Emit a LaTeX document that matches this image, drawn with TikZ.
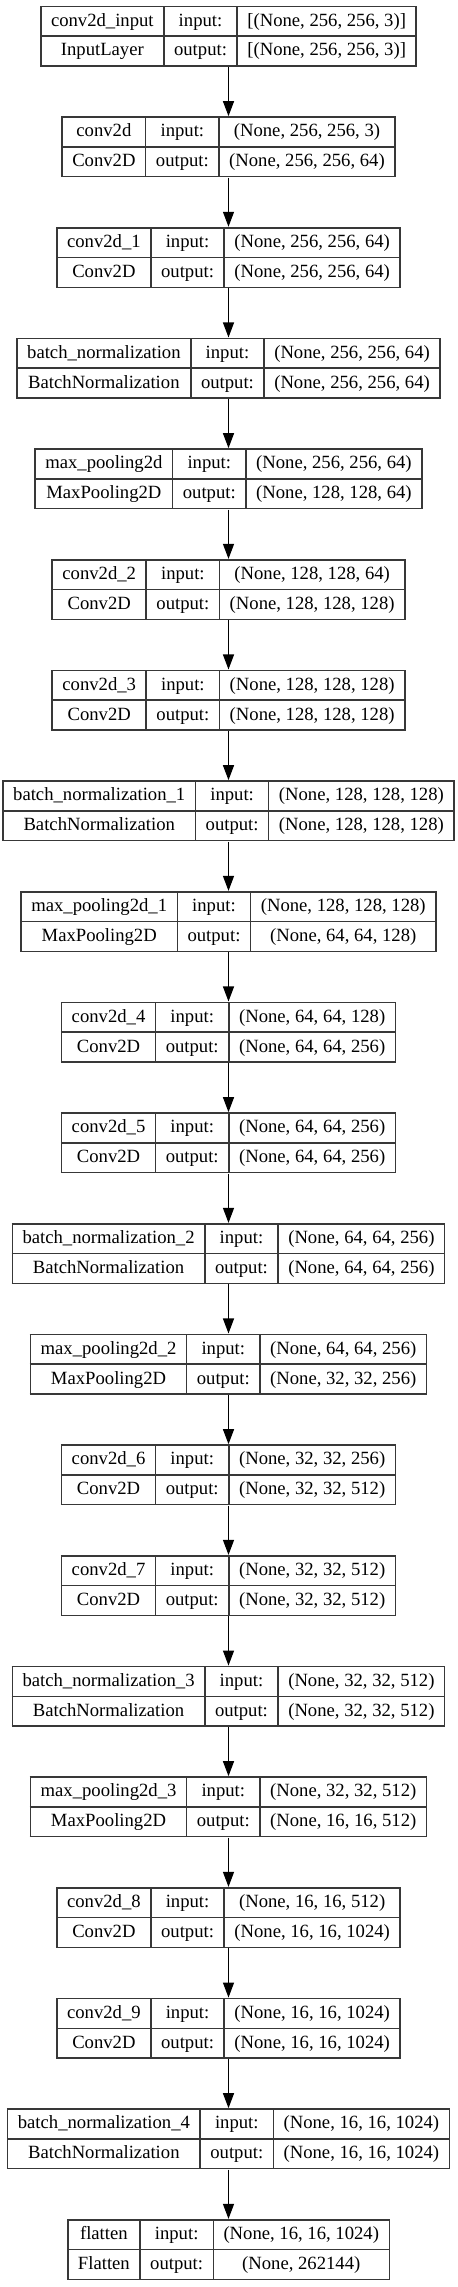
\documentclass[tikz,border=0pt]{standalone}
\usepackage{fontspec}
\setmainfont{Liberation Serif}
\usepackage{colortbl}
\usetikzlibrary{arrows.meta}

\setlength{\tabcolsep}{7.1pt}
\setlength{\arrayrulewidth}{1.1pt}
\newcommand{\layerstrut}{\rule[-6.9pt]{0pt}{21.2pt}}
\newcommand{\layerbox}[4]{%
  \arrayrulecolor{black!78}%
  \begin{tabular}{|c|c|c|}\hline
  \layerstrut #1 & input: & #3\\ \hline
  \layerstrut #2 & output: & #4\\ \hline
  \end{tabular}}

\tikzset{
  layer/.style={inner sep=0pt, font=\fontsize{14}{16}\selectfont},
  flow/.style={-{Triangle[length=11.25pt,width=8.25pt]}, line width=0.9pt}
}

\begin{document}
\begin{tikzpicture}[x=0.75pt,y=-0.75pt]
\useasboundingbox (0,0) rectangle (457,2287);

\node (input) at (228.5,36.2) [layer] {\layerbox{conv2d\_input}{InputLayer}{[(None, 256, 256, 3)]}{[(None, 256, 256, 3)]}};
\node (conv) at (228.5,146.9) [layer] {\layerbox{conv2d}{Conv2D}{(None, 256, 256, 3)}{(None, 256, 256, 64)}};
\node (conv1) at (228.5,257.5) [layer] {\layerbox{conv2d\_1}{Conv2D}{(None, 256, 256, 64)}{(None, 256, 256, 64)}};
\node (bn) at (228.5,368.2) [layer] {\layerbox{batch\_normalization}{BatchNormalization}{(None, 256, 256, 64)}{(None, 256, 256, 64)}};
\node (pool) at (228.5,478.9) [layer] {\layerbox{max\_pooling2d}{MaxPooling2D}{(None, 256, 256, 64)}{(None, 128, 128, 64)}};
\node (conv2) at (228.5,589.6) [layer] {\layerbox{conv2d\_2}{Conv2D}{(None, 128, 128, 64)}{(None, 128, 128, 128)}};
\node (conv3) at (228.5,700.2) [layer] {\layerbox{conv2d\_3}{Conv2D}{(None, 128, 128, 128)}{(None, 128, 128, 128)}};
\node (bn1) at (228.5,810.9) [layer] {\layerbox{batch\_normalization\_1}{BatchNormalization}{(None, 128, 128, 128)}{(None, 128, 128, 128)}};
\node (pool1) at (228.5,921.6) [layer] {\layerbox{max\_pooling2d\_1}{MaxPooling2D}{(None, 128, 128, 128)}{(None, 64, 64, 128)}};
\node (conv4) at (228.5,1032.2) [layer] {\layerbox{conv2d\_4}{Conv2D}{(None, 64, 64, 128)}{(None, 64, 64, 256)}};
\node (conv5) at (228.5,1142.9) [layer] {\layerbox{conv2d\_5}{Conv2D}{(None, 64, 64, 256)}{(None, 64, 64, 256)}};
\node (bn2) at (228.5,1253.6) [layer] {\layerbox{batch\_normalization\_2}{BatchNormalization}{(None, 64, 64, 256)}{(None, 64, 64, 256)}};
\node (pool2) at (228.5,1364.2) [layer] {\layerbox{max\_pooling2d\_2}{MaxPooling2D}{(None, 64, 64, 256)}{(None, 32, 32, 256)}};
\node (conv6) at (228.5,1474.9) [layer] {\layerbox{conv2d\_6}{Conv2D}{(None, 32, 32, 256)}{(None, 32, 32, 512)}};
\node (conv7) at (228.5,1585.6) [layer] {\layerbox{conv2d\_7}{Conv2D}{(None, 32, 32, 512)}{(None, 32, 32, 512)}};
\node (bn3) at (228.5,1696.3) [layer] {\layerbox{batch\_normalization\_3}{BatchNormalization}{(None, 32, 32, 512)}{(None, 32, 32, 512)}};
\node (pool3) at (228.5,1806.9) [layer] {\layerbox{max\_pooling2d\_3}{MaxPooling2D}{(None, 32, 32, 512)}{(None, 16, 16, 512)}};
\node (conv8) at (228.5,1917.6) [layer] {\layerbox{conv2d\_8}{Conv2D}{(None, 16, 16, 512)}{(None, 16, 16, 1024)}};
\node (conv9) at (228.5,2028.3) [layer] {\layerbox{conv2d\_9}{Conv2D}{(None, 16, 16, 1024)}{(None, 16, 16, 1024)}};
\node (bn4) at (228.5,2138.9) [layer] {\layerbox{batch\_normalization\_4}{BatchNormalization}{(None, 16, 16, 1024)}{(None, 16, 16, 1024)}};
\node (flatten) at (228.5,2249.6) [layer] {\layerbox{flatten}{Flatten}{(None, 16, 16, 1024)}{(None, 262144)}};

\draw [flow] (input.south) -- (conv.north);
\draw [flow] (conv.south) -- (conv1.north);
\draw [flow] (conv1.south) -- (bn.north);
\draw [flow] (bn.south) -- (pool.north);
\draw [flow] (pool.south) -- (conv2.north);
\draw [flow] (conv2.south) -- (conv3.north);
\draw [flow] (conv3.south) -- (bn1.north);
\draw [flow] (bn1.south) -- (pool1.north);
\draw [flow] (pool1.south) -- (conv4.north);
\draw [flow] (conv4.south) -- (conv5.north);
\draw [flow] (conv5.south) -- (bn2.north);
\draw [flow] (bn2.south) -- (pool2.north);
\draw [flow] (pool2.south) -- (conv6.north);
\draw [flow] (conv6.south) -- (conv7.north);
\draw [flow] (conv7.south) -- (bn3.north);
\draw [flow] (bn3.south) -- (pool3.north);
\draw [flow] (pool3.south) -- (conv8.north);
\draw [flow] (conv8.south) -- (conv9.north);
\draw [flow] (conv9.south) -- (bn4.north);
\draw [flow] (bn4.south) -- (flatten.north);
\end{tikzpicture}
\end{document}
